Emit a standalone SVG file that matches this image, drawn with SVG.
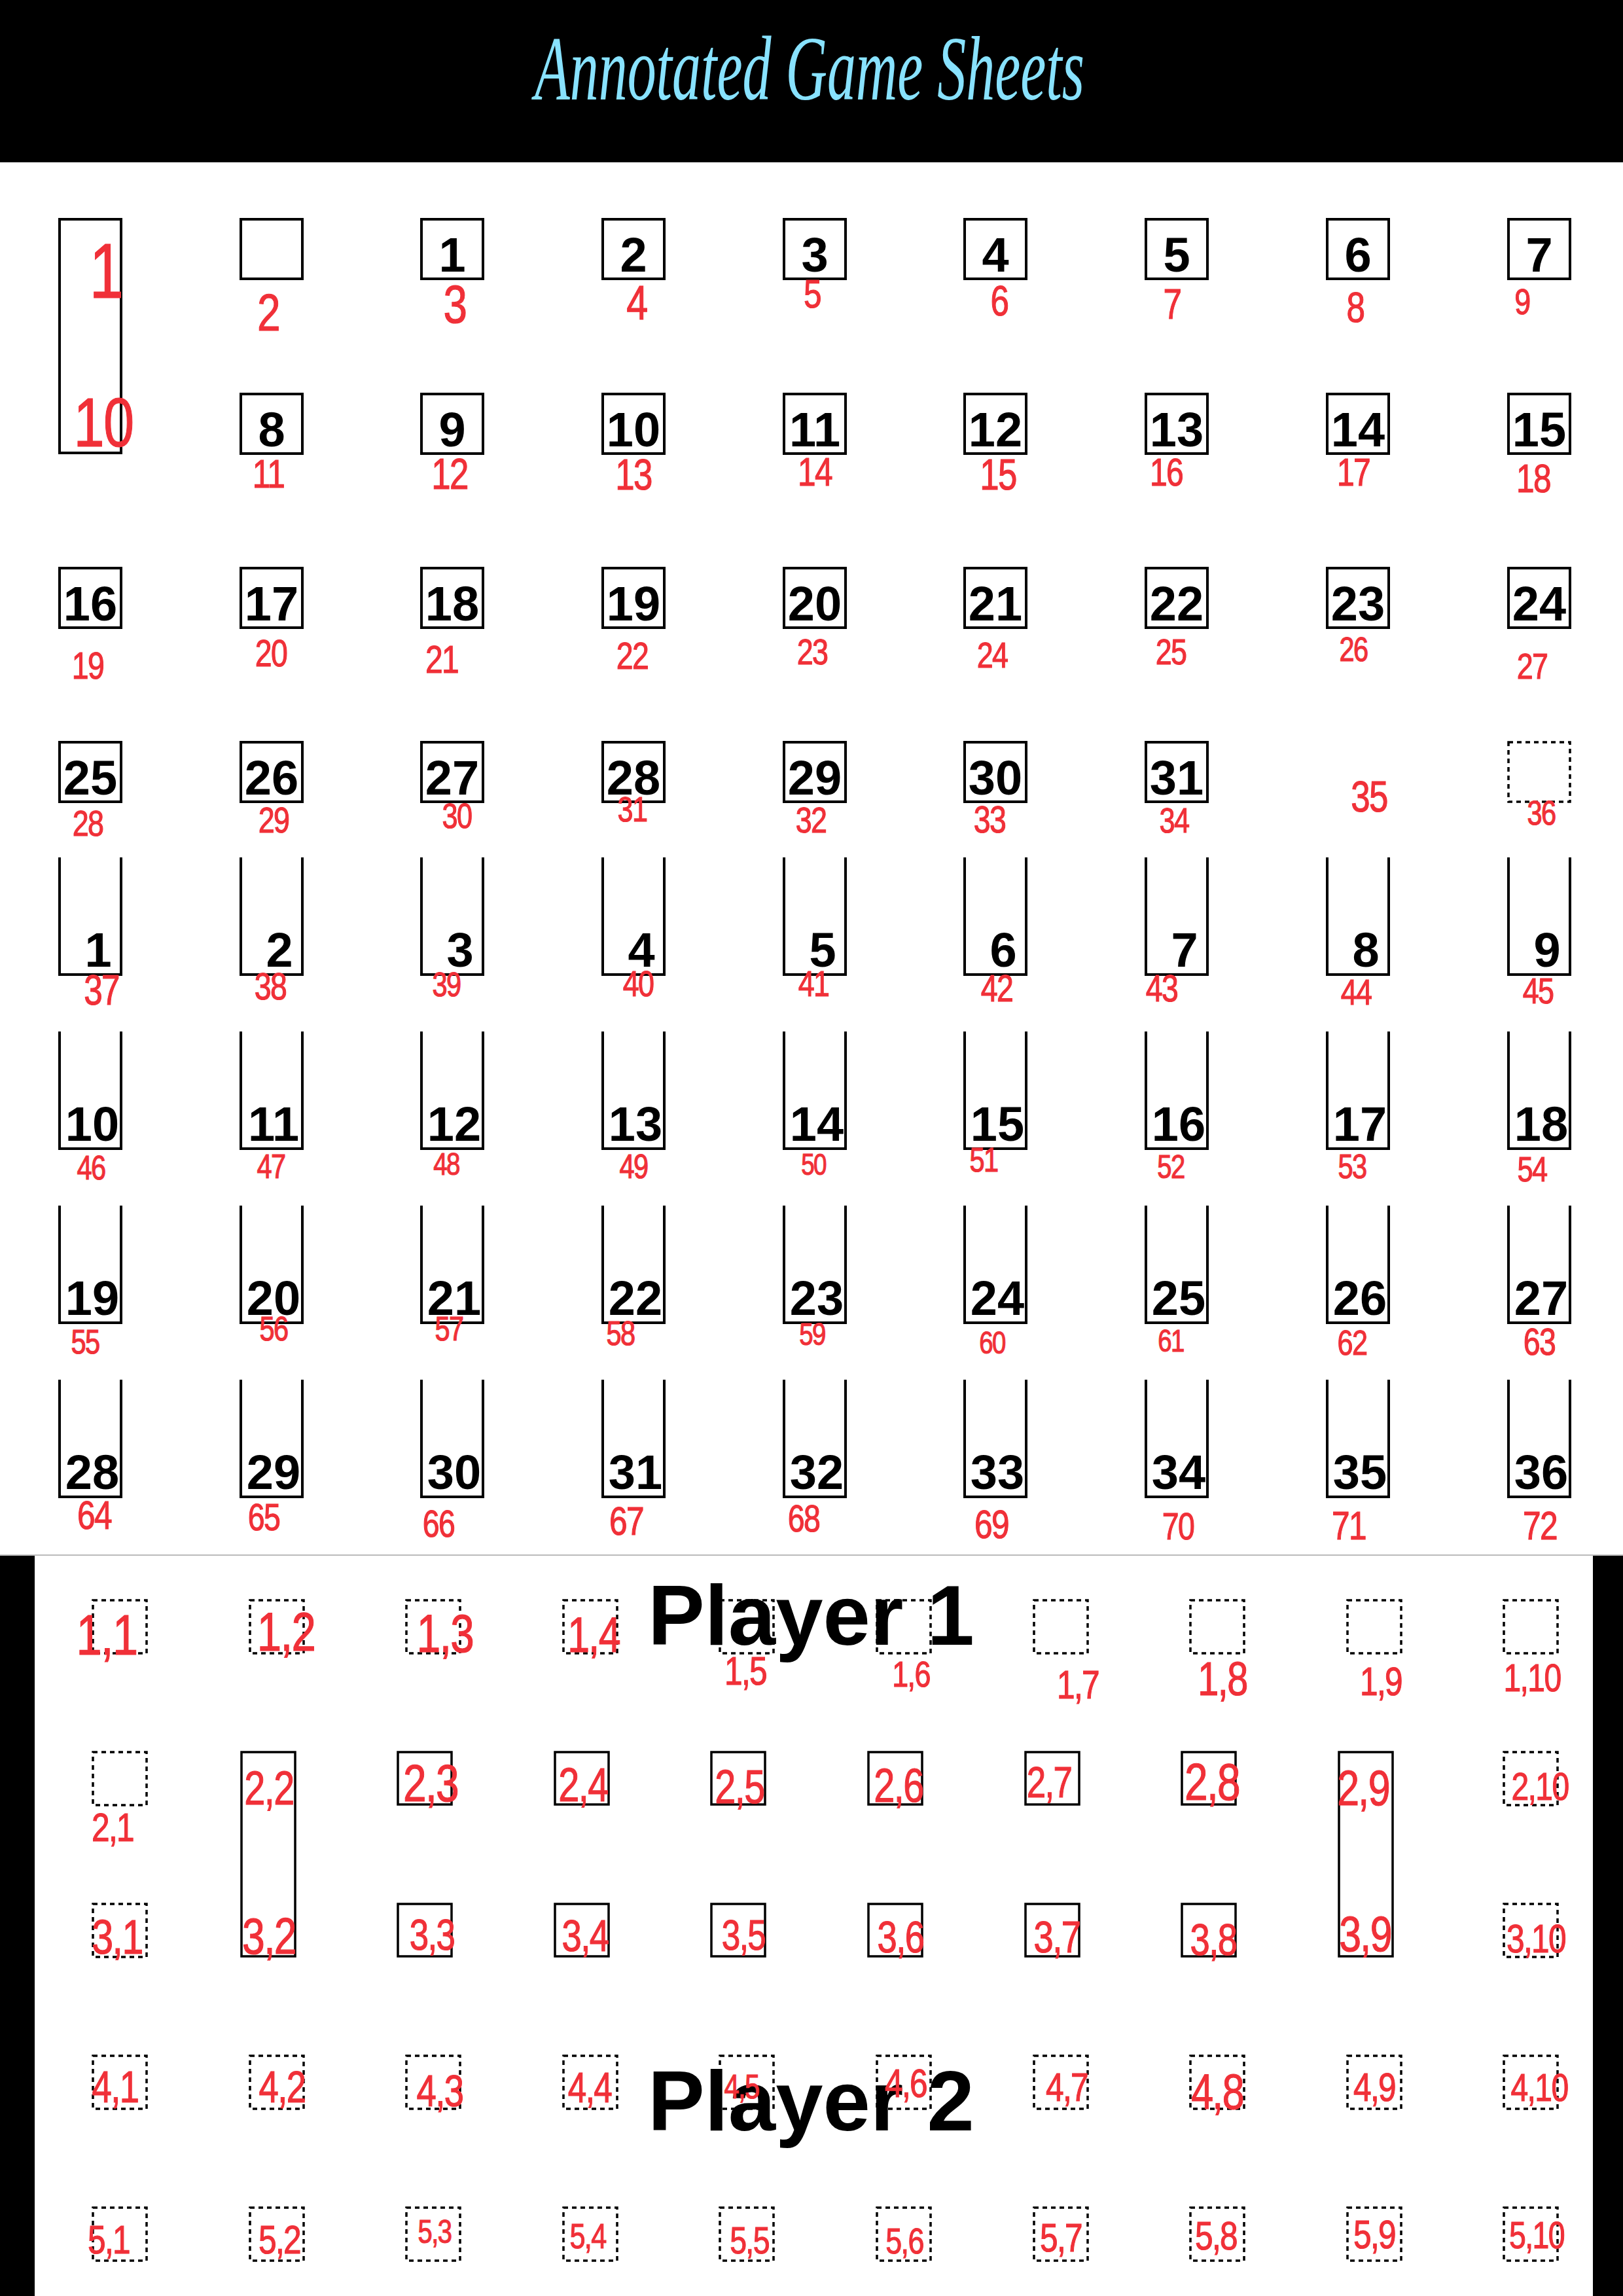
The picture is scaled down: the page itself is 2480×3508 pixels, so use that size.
<svg xmlns="http://www.w3.org/2000/svg" width="2480" height="3508" viewBox="0 0 2480 3508">
<style>
.bx{fill:none;stroke:#000;stroke-width:4}
.op{fill:none;stroke:#000;stroke-width:4}
.pb{fill:none;stroke:#000;stroke-width:3.5}
.ds{fill:none;stroke:#000;stroke-width:3.5;stroke-dasharray:7 6}
.n{font-family:"Liberation Sans",Arial,sans-serif;font-weight:bold;font-size:74px;fill:#000;text-anchor:middle}
.r{font-family:"Liberation Sans",Arial,sans-serif;fill:#f03038;stroke:#f03038;stroke-width:1.2;text-anchor:middle;letter-spacing:-2px}
.p{font-family:"Liberation Sans",Arial,sans-serif;font-weight:bold;font-size:130px;fill:#000}
</style>
<rect x="0" y="0" width="2480" height="3508" fill="#fff"/>
<rect x="0" y="0" width="2480" height="248" fill="#000"/>
<text x="1237" y="152" font-family="Liberation Serif,serif" font-style="italic" font-size="140" fill="#88e2ff" text-anchor="middle" textLength="840" lengthAdjust="spacingAndGlyphs">Annotated Game Sheets</text>
<rect x="0" y="2377" width="53" height="1131" fill="#000"/>
<rect x="2434" y="2377" width="46" height="1131" fill="#000"/>
<line x1="0" y1="2376" x2="2480" y2="2376" stroke="#bbb" stroke-width="2"/>

<g id="top-boxes">
<g id="b-tall"><rect class="bx" x="91" y="335" width="94" height="357"/></g>
<g id="b-blank"><rect class="bx" x="368" y="335" width="94" height="91"/></g>
<g id="b1"><rect class="bx" x="644" y="335" width="94" height="91"/><text class="n" x="691" y="415">1</text></g>
<g id="b2"><rect class="bx" x="921" y="335" width="94" height="91"/><text class="n" x="968" y="415">2</text></g>
<g id="b3"><rect class="bx" x="1198" y="335" width="94" height="91"/><text class="n" x="1245" y="415">3</text></g>
<g id="b4"><rect class="bx" x="1474" y="335" width="94" height="91"/><text class="n" x="1521" y="415">4</text></g>
<g id="b5"><rect class="bx" x="1751" y="335" width="94" height="91"/><text class="n" x="1798" y="415">5</text></g>
<g id="b6"><rect class="bx" x="2028" y="335" width="94" height="91"/><text class="n" x="2075" y="415">6</text></g>
<g id="b7"><rect class="bx" x="2305" y="335" width="94" height="91"/><text class="n" x="2352" y="415">7</text></g>

<g id="b8"><rect class="bx" x="368" y="602" width="94" height="91"/><text class="n" x="415" y="682">8</text></g>
<g id="b9"><rect class="bx" x="644" y="602" width="94" height="91"/><text class="n" x="691" y="682">9</text></g>
<g id="b10"><rect class="bx" x="921" y="602" width="94" height="91"/><text class="n" x="968" y="682">10</text></g>
<g id="b11"><rect class="bx" x="1198" y="602" width="94" height="91"/><text class="n" x="1245" y="682">11</text></g>
<g id="b12"><rect class="bx" x="1474" y="602" width="94" height="91"/><text class="n" x="1521" y="682">12</text></g>
<g id="b13"><rect class="bx" x="1751" y="602" width="94" height="91"/><text class="n" x="1798" y="682">13</text></g>
<g id="b14"><rect class="bx" x="2028" y="602" width="94" height="91"/><text class="n" x="2075" y="682">14</text></g>
<g id="b15"><rect class="bx" x="2305" y="602" width="94" height="91"/><text class="n" x="2352" y="682">15</text></g>

<g id="b16"><rect class="bx" x="91" y="868" width="94" height="91"/><text class="n" x="138" y="948">16</text></g>
<g id="b17"><rect class="bx" x="368" y="868" width="94" height="91"/><text class="n" x="415" y="948">17</text></g>
<g id="b18"><rect class="bx" x="644" y="868" width="94" height="91"/><text class="n" x="691" y="948">18</text></g>
<g id="b19"><rect class="bx" x="921" y="868" width="94" height="91"/><text class="n" x="968" y="948">19</text></g>
<g id="b20"><rect class="bx" x="1198" y="868" width="94" height="91"/><text class="n" x="1245" y="948">20</text></g>
<g id="b21"><rect class="bx" x="1474" y="868" width="94" height="91"/><text class="n" x="1521" y="948">21</text></g>
<g id="b22"><rect class="bx" x="1751" y="868" width="94" height="91"/><text class="n" x="1798" y="948">22</text></g>
<g id="b23"><rect class="bx" x="2028" y="868" width="94" height="91"/><text class="n" x="2075" y="948">23</text></g>
<g id="b24"><rect class="bx" x="2305" y="868" width="94" height="91"/><text class="n" x="2352" y="948">24</text></g>

<g id="b25"><rect class="bx" x="91" y="1134" width="94" height="91"/><text class="n" x="138" y="1214">25</text></g>
<g id="b26"><rect class="bx" x="368" y="1134" width="94" height="91"/><text class="n" x="415" y="1214">26</text></g>
<g id="b27"><rect class="bx" x="644" y="1134" width="94" height="91"/><text class="n" x="691" y="1214">27</text></g>
<g id="b28"><rect class="bx" x="921" y="1134" width="94" height="91"/><text class="n" x="968" y="1214">28</text></g>
<g id="b29"><rect class="bx" x="1198" y="1134" width="94" height="91"/><text class="n" x="1245" y="1214">29</text></g>
<g id="b30"><rect class="bx" x="1474" y="1134" width="94" height="91"/><text class="n" x="1521" y="1214">30</text></g>
<g id="b31"><rect class="bx" x="1751" y="1134" width="94" height="91"/><text class="n" x="1798" y="1214">31</text></g>
<g id="b-dash"><rect class="ds" x="2305" y="1134" width="94" height="91"/></g>
</g>

<g id="open-boxes">
<g id="o1"><path class="op" d="M91 1310V1489H185V1310"/><text class="n" x="150" y="1477">1</text></g>
<g id="o2"><path class="op" d="M368 1310V1489H462V1310"/><text class="n" x="427" y="1477">2</text></g>
<g id="o3"><path class="op" d="M644 1310V1489H738V1310"/><text class="n" x="703" y="1477">3</text></g>
<g id="o4"><path class="op" d="M921 1310V1489H1015V1310"/><text class="n" x="980" y="1477">4</text></g>
<g id="o5"><path class="op" d="M1198 1310V1489H1292V1310"/><text class="n" x="1257" y="1477">5</text></g>
<g id="o6"><path class="op" d="M1474 1310V1489H1568V1310"/><text class="n" x="1533" y="1477">6</text></g>
<g id="o7"><path class="op" d="M1751 1310V1489H1845V1310"/><text class="n" x="1810" y="1477">7</text></g>
<g id="o8"><path class="op" d="M2028 1310V1489H2122V1310"/><text class="n" x="2087" y="1477">8</text></g>
<g id="o9"><path class="op" d="M2305 1310V1489H2399V1310"/><text class="n" x="2364" y="1477">9</text></g>

<g id="o10"><path class="op" d="M91 1576V1755H185V1576"/><text class="n" x="141" y="1743">10</text></g>
<g id="o11"><path class="op" d="M368 1576V1755H462V1576"/><text class="n" x="418" y="1743">11</text></g>
<g id="o12"><path class="op" d="M644 1576V1755H738V1576"/><text class="n" x="694" y="1743">12</text></g>
<g id="o13"><path class="op" d="M921 1576V1755H1015V1576"/><text class="n" x="971" y="1743">13</text></g>
<g id="o14"><path class="op" d="M1198 1576V1755H1292V1576"/><text class="n" x="1248" y="1743">14</text></g>
<g id="o15"><path class="op" d="M1474 1576V1755H1568V1576"/><text class="n" x="1524" y="1743">15</text></g>
<g id="o16"><path class="op" d="M1751 1576V1755H1845V1576"/><text class="n" x="1801" y="1743">16</text></g>
<g id="o17"><path class="op" d="M2028 1576V1755H2122V1576"/><text class="n" x="2078" y="1743">17</text></g>
<g id="o18"><path class="op" d="M2305 1576V1755H2399V1576"/><text class="n" x="2355" y="1743">18</text></g>

<g id="o19"><path class="op" d="M91 1842V2021H185V1842"/><text class="n" x="141" y="2009">19</text></g>
<g id="o20"><path class="op" d="M368 1842V2021H462V1842"/><text class="n" x="418" y="2009">20</text></g>
<g id="o21"><path class="op" d="M644 1842V2021H738V1842"/><text class="n" x="694" y="2009">21</text></g>
<g id="o22"><path class="op" d="M921 1842V2021H1015V1842"/><text class="n" x="971" y="2009">22</text></g>
<g id="o23"><path class="op" d="M1198 1842V2021H1292V1842"/><text class="n" x="1248" y="2009">23</text></g>
<g id="o24"><path class="op" d="M1474 1842V2021H1568V1842"/><text class="n" x="1524" y="2009">24</text></g>
<g id="o25"><path class="op" d="M1751 1842V2021H1845V1842"/><text class="n" x="1801" y="2009">25</text></g>
<g id="o26"><path class="op" d="M2028 1842V2021H2122V1842"/><text class="n" x="2078" y="2009">26</text></g>
<g id="o27"><path class="op" d="M2305 1842V2021H2399V1842"/><text class="n" x="2355" y="2009">27</text></g>

<g id="o28"><path class="op" d="M91 2108V2287H185V2108"/><text class="n" x="141" y="2275">28</text></g>
<g id="o29"><path class="op" d="M368 2108V2287H462V2108"/><text class="n" x="418" y="2275">29</text></g>
<g id="o30"><path class="op" d="M644 2108V2287H738V2108"/><text class="n" x="694" y="2275">30</text></g>
<g id="o31"><path class="op" d="M921 2108V2287H1015V2108"/><text class="n" x="971" y="2275">31</text></g>
<g id="o32"><path class="op" d="M1198 2108V2287H1292V2108"/><text class="n" x="1248" y="2275">32</text></g>
<g id="o33"><path class="op" d="M1474 2108V2287H1568V2108"/><text class="n" x="1524" y="2275">33</text></g>
<g id="o34"><path class="op" d="M1751 2108V2287H1845V2108"/><text class="n" x="1801" y="2275">34</text></g>
<g id="o35"><path class="op" d="M2028 2108V2287H2122V2108"/><text class="n" x="2078" y="2275">35</text></g>
<g id="o36"><path class="op" d="M2305 2108V2287H2399V2108"/><text class="n" x="2355" y="2275">36</text></g>
</g>

<g id="top-labels" font-size="60" transform="scale(0.8 1)">
<text class="r" x="202.5" y="455" font-size="118">1</text>
<text class="r" x="197.5" y="682" font-size="106">10</text>
<text class="r" x="512.5" y="505" font-size="80">2</text>
<text class="r" x="868.75" y="493" font-size="82">3</text>
<text class="r" x="1216.25" y="488" font-size="74">4</text>
<text class="r" x="1551.25" y="470" font-size="62">5</text>
<text class="r" x="1908.75" y="482" font-size="64">6</text>
<text class="r" x="2238.75" y="487" font-size="64">7</text>
<text class="r" x="2588.75" y="492" font-size="64">8</text>
<text class="r" x="2907.5" y="480" font-size="56">9</text>
<text class="r" x="512.5" y="745" font-size="62">11</text>
<text class="r" x="858.75" y="747" font-size="66">12</text>
<text class="r" x="1210" y="748" font-size="66">13</text>
<text class="r" x="1556.25" y="742" font-size="62">14</text>
<text class="r" x="1906.25" y="748" font-size="66">15</text>
<text class="r" x="2227.5" y="742" font-size="60">16</text>
<text class="r" x="2585" y="742" font-size="60">17</text>
<text class="r" x="2928.75" y="752" font-size="62">18</text>
<text class="r" x="167.5" y="1037" font-size="58">19</text>
<text class="r" x="517.5" y="1018" font-size="58">20</text>
<text class="r" x="843.75" y="1028" font-size="60">21</text>
<text class="r" x="1207.5" y="1022" font-size="58">22</text>
<text class="r" x="1551.25" y="1015" font-size="56">23</text>
<text class="r" x="1895" y="1020" font-size="56">24</text>
<text class="r" x="2236.25" y="1015" font-size="56">25</text>
<text class="r" x="2585" y="1010" font-size="52">26</text>
<text class="r" x="2926.25" y="1037" font-size="56">27</text>
<text class="r" x="167.5" y="1277" font-size="56">28</text>
<text class="r" x="522.5" y="1272" font-size="56">29</text>
<text class="r" x="872.5" y="1265" font-size="54">30</text>
<text class="r" x="1207.5" y="1255" font-size="54">31</text>
<text class="r" x="1548.75" y="1272" font-size="56">32</text>
<text class="r" x="1890" y="1272" font-size="58">33</text>
<text class="r" x="2242.5" y="1272" font-size="54">34</text>
<text class="r" x="2615" y="1240" font-size="66">35</text>
<text class="r" x="2943.75" y="1260" font-size="52">36</text>
<text class="r" x="193.75" y="1535" font-size="64">37</text>
<text class="r" x="516.25" y="1527" font-size="58">38</text>
<text class="r" x="852.5" y="1522" font-size="52">39</text>
<text class="r" x="1218.75" y="1522" font-size="56">40</text>
<text class="r" x="1553.75" y="1522" font-size="56">41</text>
<text class="r" x="1903.75" y="1530" font-size="58">42</text>
<text class="r" x="2218.75" y="1530" font-size="58">43</text>
<text class="r" x="2590" y="1535" font-size="56">44</text>
<text class="r" x="2937.5" y="1533" font-size="56">45</text>
<text class="r" x="173.75" y="1802" font-size="52">46</text>
<text class="r" x="517.5" y="1800" font-size="52">47</text>
<text class="r" x="852.5" y="1795" font-size="48">48</text>
<text class="r" x="1210" y="1800" font-size="52">49</text>
<text class="r" x="1553.75" y="1795" font-size="46">50</text>
<text class="r" x="1878.75" y="1790" font-size="52">51</text>
<text class="r" x="2236.25" y="1800" font-size="50">52</text>
<text class="r" x="2582.5" y="1800" font-size="52">53</text>
<text class="r" x="2926.25" y="1805" font-size="54">54</text>
<text class="r" x="162.5" y="2068" font-size="52">55</text>
<text class="r" x="522.5" y="2048" font-size="52">56</text>
<text class="r" x="857.5" y="2048" font-size="52">57</text>
<text class="r" x="1185" y="2055" font-size="52">58</text>
<text class="r" x="1551.25" y="2055" font-size="48">59</text>
<text class="r" x="1895" y="2068" font-size="48">60</text>
<text class="r" x="2236.25" y="2065" font-size="48">61</text>
<text class="r" x="2582.5" y="2070" font-size="54">62</text>
<text class="r" x="2940" y="2070" font-size="58">63</text>
<text class="r" x="180" y="2336" font-size="62">64</text>
<text class="r" x="503.75" y="2338" font-size="58">65</text>
<text class="r" x="837.5" y="2348" font-size="58">66</text>
<text class="r" x="1196.25" y="2345" font-size="62">67</text>
<text class="r" x="1535" y="2340" font-size="58">68</text>
<text class="r" x="1893.75" y="2350" font-size="62">69</text>
<text class="r" x="2250" y="2352" font-size="58">70</text>
<text class="r" x="2576.25" y="2352" font-size="62">71</text>
<text class="r" x="2941.25" y="2352" font-size="62">72</text>
</g>

<text class="p" x="990" y="2513">Player 1</text>
<text class="p" x="990" y="3255">Player 2</text>

<g id="player-boxes">
<g id="pr1">
<rect class="ds" x="142" y="2445" width="82" height="81"/>
<rect class="ds" x="382" y="2445" width="82" height="81"/>
<rect class="ds" x="621" y="2445" width="82" height="81"/>
<rect class="ds" x="861" y="2445" width="82" height="81"/>
<rect class="ds" x="1100" y="2445" width="82" height="81"/>
<rect class="ds" x="1340" y="2445" width="82" height="81"/>
<rect class="ds" x="1580" y="2445" width="82" height="81"/>
<rect class="ds" x="1819" y="2445" width="82" height="81"/>
<rect class="ds" x="2059" y="2445" width="82" height="81"/>
<rect class="ds" x="2298" y="2445" width="82" height="81"/>
</g>
<g id="pr2">
<rect class="ds" x="142" y="2677" width="82" height="81"/>
<rect class="pb" x="369" y="2677" width="82" height="312"/>
<rect class="pb" x="608" y="2677" width="82" height="80"/>
<rect class="pb" x="848" y="2677" width="82" height="80"/>
<rect class="pb" x="1087" y="2677" width="82" height="80"/>
<rect class="pb" x="1327" y="2677" width="82" height="80"/>
<rect class="pb" x="1567" y="2677" width="82" height="80"/>
<rect class="pb" x="1806" y="2677" width="82" height="80"/>
<rect class="pb" x="2046" y="2677" width="82" height="312"/>
<rect class="ds" x="2298" y="2677" width="82" height="81"/>
</g>
<g id="pr3">
<rect class="ds" x="142" y="2909" width="82" height="81"/>
<rect class="pb" x="608" y="2909" width="82" height="80"/>
<rect class="pb" x="848" y="2909" width="82" height="80"/>
<rect class="pb" x="1087" y="2909" width="82" height="80"/>
<rect class="pb" x="1327" y="2909" width="82" height="80"/>
<rect class="pb" x="1567" y="2909" width="82" height="80"/>
<rect class="pb" x="1806" y="2909" width="82" height="80"/>
<rect class="ds" x="2298" y="2909" width="82" height="81"/>
</g>
<g id="pr4">
<rect class="ds" x="142" y="3141" width="82" height="81"/>
<rect class="ds" x="382" y="3141" width="82" height="81"/>
<rect class="ds" x="621" y="3141" width="82" height="81"/>
<rect class="ds" x="861" y="3141" width="82" height="81"/>
<rect class="ds" x="1100" y="3141" width="82" height="81"/>
<rect class="ds" x="1340" y="3141" width="82" height="81"/>
<rect class="ds" x="1580" y="3141" width="82" height="81"/>
<rect class="ds" x="1819" y="3141" width="82" height="81"/>
<rect class="ds" x="2059" y="3141" width="82" height="81"/>
<rect class="ds" x="2298" y="3141" width="82" height="81"/>
</g>
<g id="pr5">
<rect class="ds" x="142" y="3373" width="82" height="81"/>
<rect class="ds" x="382" y="3373" width="82" height="81"/>
<rect class="ds" x="621" y="3373" width="82" height="81"/>
<rect class="ds" x="861" y="3373" width="82" height="81"/>
<rect class="ds" x="1100" y="3373" width="82" height="81"/>
<rect class="ds" x="1340" y="3373" width="82" height="81"/>
<rect class="ds" x="1580" y="3373" width="82" height="81"/>
<rect class="ds" x="1819" y="3373" width="82" height="81"/>
<rect class="ds" x="2059" y="3373" width="82" height="81"/>
<rect class="ds" x="2298" y="3373" width="82" height="81"/>
</g>
</g>

<g id="player-labels" font-size="64" transform="scale(0.8 1)">
<text class="r" x="203.75" y="2528" font-size="88">1,1</text>
<text class="r" x="546.25" y="2522" font-size="84">1,2</text>
<text class="r" x="850" y="2524" font-size="82">1,3</text>
<text class="r" x="1133.75" y="2524" font-size="76">1,4</text>
<text class="r" x="1423.75" y="2574" font-size="62">1,5</text>
<text class="r" x="1740" y="2577" font-size="56">1,6</text>
<text class="r" x="2058.75" y="2595" font-size="62">1,7</text>
<text class="r" x="2335" y="2590" font-size="72">1,8</text>
<text class="r" x="2637.5" y="2590" font-size="62">1,9</text>
<text class="r" x="2926.25" y="2584" font-size="60">1,10</text>
<text class="r" x="215" y="2813" font-size="62">2,1</text>
<text class="r" x="513.75" y="2757" font-size="72">2,2</text>
<text class="r" x="822.5" y="2752" font-size="80">2,3</text>
<text class="r" x="1113.75" y="2752" font-size="72">2,4</text>
<text class="r" x="1412.5" y="2755" font-size="72">2,5</text>
<text class="r" x="1716.25" y="2753" font-size="72">2,6</text>
<text class="r" x="2003.75" y="2746" font-size="66">2,7</text>
<text class="r" x="2315" y="2750" font-size="80">2,8</text>
<text class="r" x="2603.75" y="2758" font-size="76">2,9</text>
<text class="r" x="2941.25" y="2750" font-size="60">2,10</text>
<text class="r" x="223.75" y="2985" font-size="74">3,1</text>
<text class="r" x="513.75" y="2985" font-size="78">3,2</text>
<text class="r" x="825" y="2979" font-size="66">3,3</text>
<text class="r" x="1117.5" y="2981" font-size="68">3,4</text>
<text class="r" x="1420" y="2979" font-size="64">3,5</text>
<text class="r" x="1720" y="2983" font-size="68">3,6</text>
<text class="r" x="2018.75" y="2983" font-size="68">3,7</text>
<text class="r" x="2317.5" y="2987" font-size="68">3,8</text>
<text class="r" x="2607.5" y="2981" font-size="76">3,9</text>
<text class="r" x="2933.75" y="2983" font-size="62">3,10</text>
<text class="r" x="220" y="3212" font-size="68">4,1</text>
<text class="r" x="538.75" y="3212" font-size="68">4,2</text>
<text class="r" x="840" y="3218" font-size="68">4,3</text>
<text class="r" x="1126.25" y="3212" font-size="64">4,4</text>
<text class="r" x="1416.25" y="3206" font-size="52">4,5</text>
<text class="r" x="1730" y="3204" font-size="62">4,6</text>
<text class="r" x="2037.5" y="3210" font-size="62">4,7</text>
<text class="r" x="2325" y="3222" font-size="76">4,8</text>
<text class="r" x="2625" y="3210" font-size="62">4,9</text>
<text class="r" x="2940" y="3210" font-size="60">4,10</text>
<text class="r" x="207.5" y="3443" font-size="62">5,1</text>
<text class="r" x="533.75" y="3443" font-size="62">5,2</text>
<text class="r" x="830" y="3427" font-size="50">5,3</text>
<text class="r" x="1122.5" y="3435" font-size="54">5,4</text>
<text class="r" x="1431.25" y="3443" font-size="58">5,5</text>
<text class="r" x="1727.5" y="3443" font-size="56">5,6</text>
<text class="r" x="2026.25" y="3440" font-size="62">5,7</text>
<text class="r" x="2322.5" y="3437" font-size="62">5,8</text>
<text class="r" x="2625" y="3435" font-size="62">5,9</text>
<text class="r" x="2935" y="3435" font-size="58">5,10</text>
</g>
</svg>
